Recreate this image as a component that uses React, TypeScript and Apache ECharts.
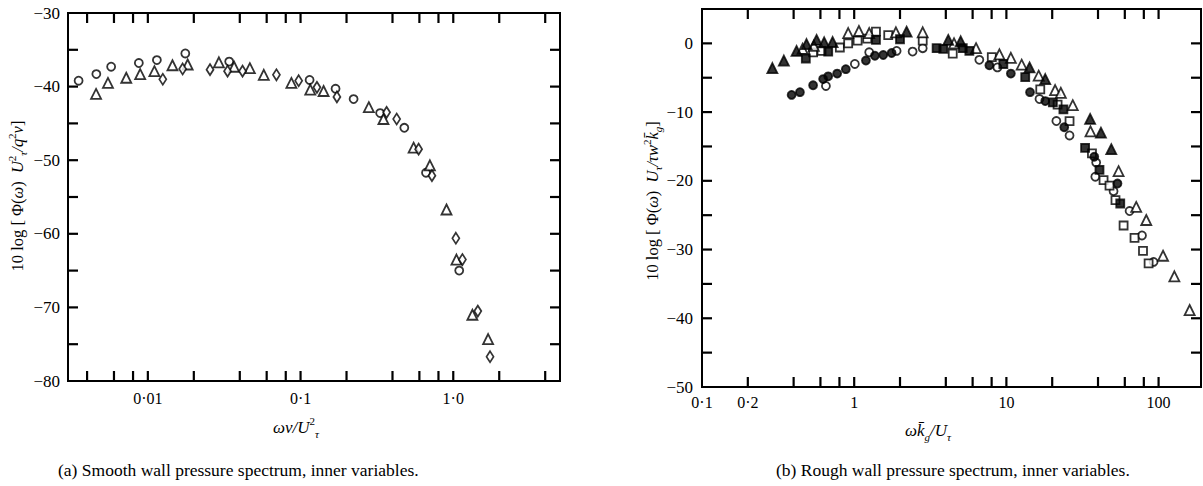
import React, { useEffect, useRef } from 'react';
import * as echarts from 'echarts';

// ---------- (a) Smooth wall, inner variables ----------
const smoothCircles: number[][] = [
  [0.00352, -39.2], [0.0046, -38.3], [0.00575, -37.3], [0.00873, -36.8], [0.01146, -36.4],
  [0.01759, -35.5], [0.0341, -36.6], [0.1146, -39.1], [0.1695, -40.3], [0.2225, -41.7],
  [0.332, -43.6], [0.478, -45.6], [0.663, -51.7], [1.094, -65.0],
];
const smoothTriangles: number[][] = [
  [0.00458, -41.0], [0.00548, -39.5], [0.00722, -38.8], [0.00891, -38.3], [0.01104, -37.9],
  [0.01449, -37.1], [0.01823, -37.0], [0.02919, -36.7], [0.03672, -37.3], [0.04656, -37.5],
  [0.05745, -38.4], [0.0871, -39.5], [0.1158, -40.4], [0.1415, -40.6], [0.28, -42.8],
  [0.349, -44.4], [0.55, -48.3], [0.703, -50.7], [0.903, -56.7], [1.049, -63.5],
  [1.334, -71.0], [1.691, -74.3],
];
const smoothDiamonds: number[][] = [
  [0.01253, -39.0], [0.0169, -37.6], [0.02553, -37.7], [0.03326, -37.9], [0.04169, -37.9],
  [0.0695, -38.4], [0.0972, -39.2], [0.128, -40.1], [0.173, -41.4], [0.366, -43.5],
  [0.426, -44.4], [0.593, -48.5], [0.725, -52.1], [1.04, -60.6], [1.148, -63.5],
  [1.448, -70.5], [1.741, -76.7],
];
const smoothXTicks = [0.004, 0.006, 0.008, 0.01, 0.02, 0.04, 0.06, 0.08, 0.1, 0.2, 0.4, 0.6, 0.8, 1, 2, 4];
const smoothXLabelValues = [0.01, 0.1, 1];
const smoothXLabels = ['0·01', '0·1', '1·0'];
const smoothYTicks = [-75, -70, -65, -60, -55, -50, -45, -40, -35];

// ---------- (b) Rough wall, inner variables ----------
const roughFilledTriangles: number[][] = [
  [0.29, -3.6], [0.345, -2.5], [0.418, -1.1], [0.486, -0.1], [0.566, 0.5], [0.635, 0.15],
  [0.721, 0.2], [2.21, 1.7], [4.15, 0.5], [5.01, 0.3], [14.2, -3.5], [18.0, -5.2],
  [35.5, -11.0], [41.8, -13.0], [48.9, -15.4],
];
const roughOpenTriangles: number[][] = [
  [0.458, -0.8], [0.543, -0.35], [0.913, 1.5], [1.074, 1.8], [1.255, 1.5], [1.88, 1.6],
  [2.82, 1.6], [4.53, 0.0], [6.32, -0.7], [9.0, -1.6], [10.7, -2.1], [12.6, -3.1],
  [16.3, -4.7], [20.9, -6.8], [22.8, -7.2], [27.3, -9.0], [35.7, -12.8], [54.6, -18.6],
  [71.3, -23.8], [83.0, -25.7], [107, -30.9], [127, -33.9], [160, -38.8],
];
const roughOpenSquares: number[][] = [
  [0.537, -1.3], [0.61, -1.1], [0.805, -0.6], [0.913, 0.0], [1.053, 0.4], [1.218, 0.7],
  [1.39, 1.7], [1.674, 1.2], [2.82, 0.4], [4.44, -1.5], [8.02, -2.0], [16.7, -6.7],
  [21.7, -8.9], [26.0, -11.3], [36.5, -16.0], [43.5, -19.9], [47.6, -20.7], [52.1, -22.8],
  [58.9, -26.5], [69.5, -28.3], [79, -30.2], [86, -32.0],
];
const roughFilledSquares: number[][] = [
  [0.481, -2.2], [0.675, -1.2], [1.39, 0.5], [2.0, 0.6], [3.48, -0.7], [3.85, -0.8],
  [5.17, -0.7], [5.71, -1.1], [9.55, -3.0], [13.3, -4.9], [20.2, -8.6], [23.7, -9.6],
  [32.9, -15.2], [40.9, -18.4], [56.0, -23.3],
];
const roughFilledCircles: number[][] = [
  [0.388, -7.5], [0.44, -7.1], [0.537, -6.1], [0.625, -5.2], [0.675, -4.8], [0.773, -4.4],
  [0.881, -3.75], [1.194, -2.5], [1.368, -1.8], [1.552, -1.7], [1.762, -1.4], [7.73, -3.2],
  [10.7, -4.4], [14.3, -7.1], [18.0, -8.4], [24.0, -12.2], [37.8, -16.5], [53.7, -20.4],
];
const roughOpenCircles: number[][] = [
  [0.652, -6.2], [1.01, -3.0], [1.255, -1.3], [1.9, -1.1], [2.42, -1.2], [2.82, -0.7],
  [6.64, -2.4], [8.73, -3.5], [16.5, -8.1], [21.3, -11.3], [26.0, -13.4], [38.9, -17.35],
  [38.4, -19.4], [50.6, -21.5], [64.5, -24.4], [77.8, -27.95], [92.7, -31.8],
];
const roughXTicks = [0.2, 0.4, 0.6, 0.8, 1, 2, 4, 6, 8, 10, 20, 40, 60, 80, 100];
const roughXLabelValues = [0.1, 0.2, 1, 10, 100];
const roughXLabels = ['0·1', '0·2', '1', '10', '100'];
const roughYTicks = [-45, -40, -35, -30, -25, -20, -15, -10, -5, 0];

const SERIF = '"Liberation Serif", "Times New Roman", serif';
const BLACK = '#000';

function xTickSeries(idx: number, ticks: number[], yMin: number) {
  return {
    type: 'custom', xAxisIndex: idx, yAxisIndex: idx, clip: false, silent: true,
    data: ticks.map((v) => [v, yMin]),
    renderItem: (params: any, api: any) => {
      const cs = params.coordSys;
      const x = api.coord([api.value(0), yMin])[0];
      const b = cs.y + cs.height;
      const st = { stroke: BLACK, lineWidth: 2.2 };
      return { type: 'group', children: [
        { type: 'line', shape: { x1: x, y1: b, x2: x, y2: b - 10 }, style: st },
        { type: 'line', shape: { x1: x, y1: cs.y, x2: x, y2: cs.y + 10 }, style: st },
      ] };
    },
  };
}

function yTickSeries(idx: number, ticks: number[], xMin: number) {
  return {
    type: 'custom', xAxisIndex: idx, yAxisIndex: idx, clip: false, silent: true,
    data: ticks.map((v) => [xMin, v]),
    renderItem: (params: any, api: any) => {
      const cs = params.coordSys;
      const y = api.coord([xMin, api.value(1)])[1];
      const st = { stroke: BLACK, lineWidth: 2.2 };
      return { type: 'group', children: [
        { type: 'line', shape: { x1: cs.x, y1: y, x2: cs.x + 10, y2: y }, style: st },
        { type: 'line', shape: { x1: cs.x + cs.width, y1: y, x2: cs.x + cs.width - 10, y2: y }, style: st },
      ] };
    },
  };
}

function labelSeries(idx: number, values: number[], labels: string[], yMin: number, offset: number) {
  return {
    type: 'custom', xAxisIndex: idx, yAxisIndex: idx, clip: false, silent: true,
    data: values.map((v) => [v, yMin]),
    renderItem: (params: any, api: any) => {
      const cs = params.coordSys;
      const x = api.coord([api.value(0), yMin])[0];
      return {
        type: 'text', x, y: cs.y + cs.height + offset,
        style: { text: labels[params.dataIndex], fill: BLACK, fontFamily: SERIF, fontSize: 16, align: 'center', verticalAlign: 'middle' },
      };
    },
  };
}

function scatter(idx: number, data: number[][], symbol: string, size: any, filled: boolean) {
  return {
    type: 'scatter', xAxisIndex: idx, yAxisIndex: idx, data, symbol, symbolSize: size,
    itemStyle: { color: filled ? BLACK : '#fff', borderColor: BLACK, borderWidth: 1.8 },
  };
}

function xAxisOf(gridIndex: number, min: number, max: number) {
  return {
    type: 'log', gridIndex, min, max,
    axisLine: { show: false }, axisTick: { show: false }, axisLabel: { show: false }, splitLine: { show: false },
  };
}

function yAxisOf(gridIndex: number, min: number, max: number, margin: number) {
  return {
    type: 'value', gridIndex, min, max, interval: 5,
    axisLine: { show: false }, axisTick: { show: false }, splitLine: { show: false },
    axisLabel: {
      margin, color: BLACK, fontFamily: SERIF, fontSize: 17,
      formatter: (v: number) => (v % 10 === 0 ? (v < 0 ? '−' + Math.abs(v) : String(v)) : ''),
    },
  };
}

const richY = {
  r: { fontFamily: SERIF, fontSize: 16.5, lineHeight: 22 },
  i: { fontFamily: SERIF, fontSize: 16.5, fontStyle: 'italic', lineHeight: 22 },
  sup: { fontFamily: SERIF, fontSize: 11, lineHeight: 22, verticalAlign: 'top' },
  sub: { fontFamily: SERIF, fontSize: 11, fontStyle: 'italic', lineHeight: 22, verticalAlign: 'bottom' },
};
const richX = {
  i: { fontFamily: SERIF, fontSize: 17, fontStyle: 'italic', lineHeight: 24 },
  sup: { fontFamily: SERIF, fontSize: 11, lineHeight: 24, verticalAlign: 'top' },
  sub: { fontFamily: SERIF, fontSize: 11, fontStyle: 'italic', lineHeight: 24, verticalAlign: 'bottom' },
};

export default function App() {
  const ref = useRef<HTMLDivElement>(null);
  useEffect(() => {
    if (!ref.current) return;
    const chart = echarts.init(ref.current, undefined, { renderer: 'svg' });
    chart.setOption({
      animation: false,
      grid: [
        { left: 68, top: 13, width: 492, height: 368, show: true, borderColor: BLACK, borderWidth: 2 },
        { left: 702, top: 9, width: 499, height: 378, show: true, borderColor: BLACK, borderWidth: 2 },
      ],
      xAxis: [xAxisOf(0, 0.003, 5), xAxisOf(1, 0.1, 190)],
      yAxis: [yAxisOf(0, -80, -30, 8), yAxisOf(1, -50, 5, 9)],
      series: [
        scatter(0, smoothCircles, 'circle', 8, false),
        scatter(0, smoothTriangles, 'triangle', 10, false),
        scatter(0, smoothDiamonds, 'diamond', [7, 11], false),
        xTickSeries(0, smoothXTicks, -80),
        yTickSeries(0, smoothYTicks, 0.003),
        labelSeries(0, smoothXLabelValues, smoothXLabels, -80, 17),
        scatter(1, roughOpenCircles, 'circle', 8, false),
        scatter(1, roughOpenSquares, 'rect', 8, false),
        scatter(1, roughOpenTriangles, 'triangle', 10, false),
        scatter(1, roughFilledCircles, 'circle', 8, true),
        scatter(1, roughFilledSquares, 'rect', 8, true),
        scatter(1, roughFilledTriangles, 'triangle', 10, true),
        xTickSeries(1, roughXTicks, -50),
        yTickSeries(1, roughYTicks, 0.1),
        labelSeries(1, roughXLabelValues, roughXLabels, -50, 15),
      ],
      graphic: [
        {
          type: 'text', x: 17, y: 196, rotation: Math.PI / 2,
          style: {
            text: '{r|10 log [ Φ(}{i|ω}{r|)  }{i|U}{sup|2}{sub|τ}{i|/q}{sup|2}{i|ν}{r|]}',
            rich: richY, fill: BLACK, align: 'center', verticalAlign: 'middle',
          },
        },
        {
          type: 'text', x: 652, y: 201, rotation: Math.PI / 2,
          style: {
            text: '{r|10 log [ Φ(}{i|ω}{r|)  }{i|U}{sub|τ}{i|/τw}{sup|2}{i|k̄}{sub|g}{r|]}',
            rich: richY, fill: BLACK, align: 'center', verticalAlign: 'middle',
          },
        },
        {
          type: 'text', x: 296, y: 427,
          style: { text: '{i|ων/U}{sup|2}{sub|τ}', rich: richX, fill: BLACK, align: 'center', verticalAlign: 'middle' },
        },
        {
          type: 'text', x: 928, y: 430,
          style: { text: '{i|ωk̄}{sub|g}{i|/U}{sub|τ}', rich: richX, fill: BLACK, align: 'center', verticalAlign: 'middle' },
        },
        {
          type: 'text', x: 58, y: 470,
          style: { text: '(a) Smooth wall pressure spectrum, inner variables.', fill: BLACK, fontFamily: SERIF, fontSize: 17.5, align: 'left', verticalAlign: 'middle' },
        },
        {
          type: 'text', x: 776, y: 470,
          style: { text: '(b) Rough wall pressure spectrum, inner variables.', fill: BLACK, fontFamily: SERIF, fontSize: 17.5, align: 'left', verticalAlign: 'middle' },
        },
      ],
    } as any);
    return () => chart.dispose();
  }, []);
  return <div ref={ref} style={{ position: 'absolute', left: 0, top: 0, width: 1203, height: 486 }} />;
}
